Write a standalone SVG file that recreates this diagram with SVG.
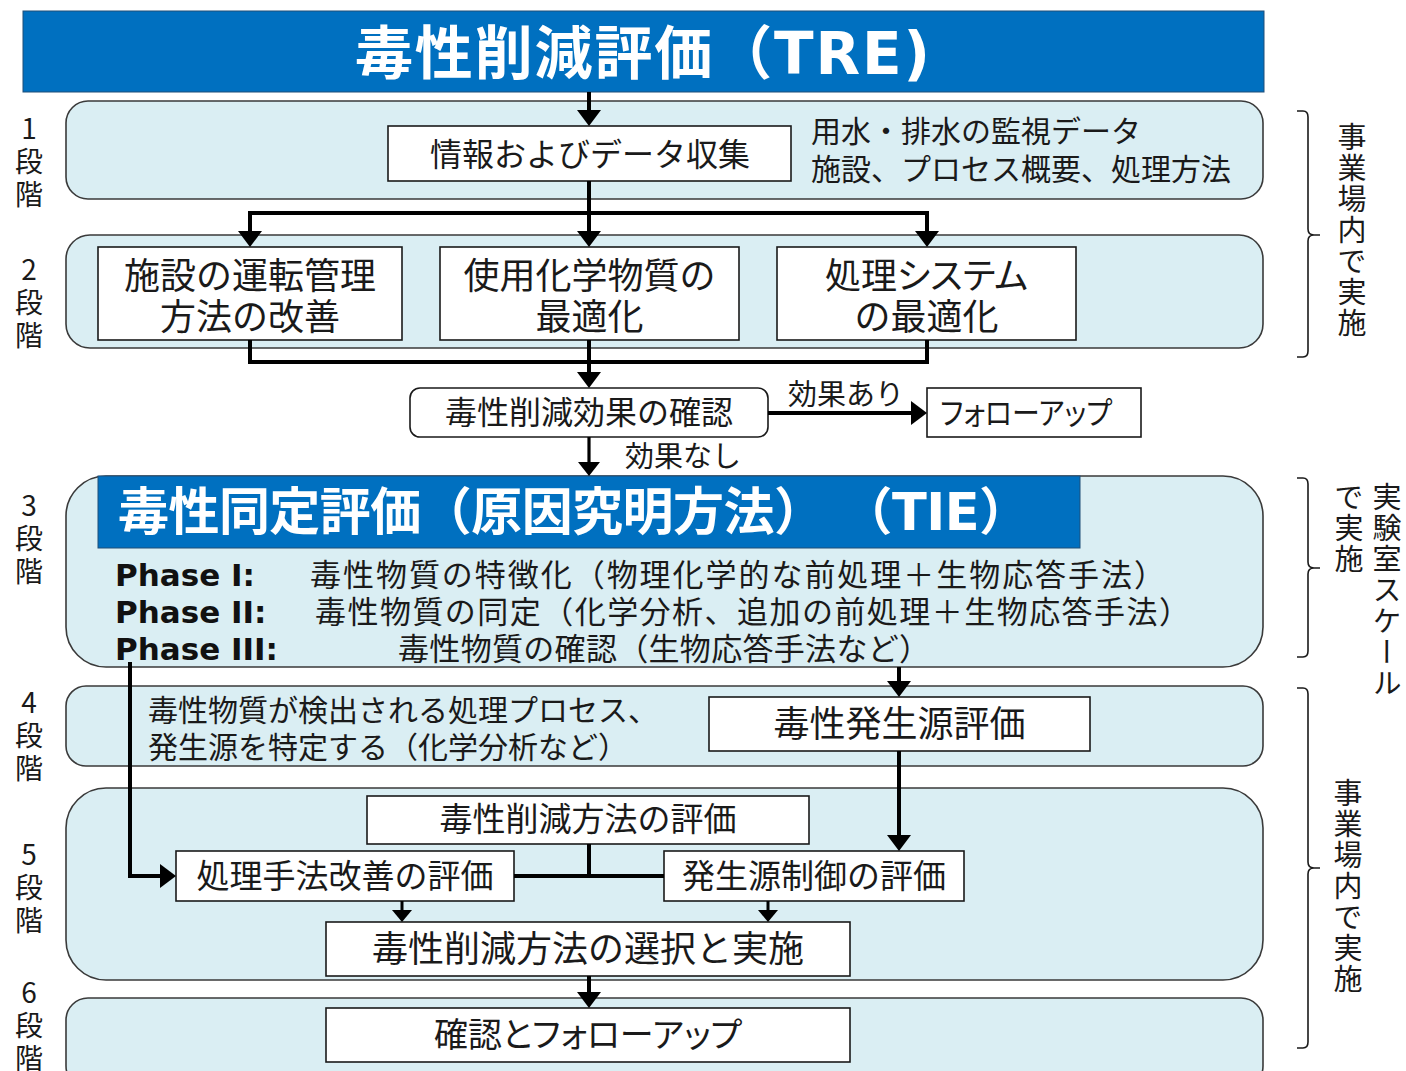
<svg xmlns="http://www.w3.org/2000/svg" width="1406" height="1071" viewBox="0 0 1406 1071">
<style>
.bg{fill:#ffffff}
.panel{fill:#DAEEF3;stroke:#3a3a3a;stroke-width:1.6}
.hdr{fill:#0070C0;stroke:#1f4e79;stroke-width:1}
.box{fill:#ffffff;stroke:#1a1a1a;stroke-width:1.6}
.t{font-family:"Noto Sans CJK JP","Noto Sans",sans-serif;fill:#1a1a1a}
.c{text-anchor:middle}
.w{font-family:"DejaVu Sans","Noto Sans CJK JP",sans-serif;font-weight:bold;fill:#ffffff}
.ph{font-family:"DejaVu Sans","Noto Sans CJK JP",sans-serif;font-weight:bold;fill:#111111;font-size:31px}
.lab{font-family:"Noto Sans CJK JP","Noto Sans",sans-serif;fill:#1a1a1a;font-size:28px;writing-mode:vertical-rl;text-orientation:upright;letter-spacing:5px}
.vt{font-family:"Noto Sans CJK JP",sans-serif;fill:#1a1a1a;font-size:29px;writing-mode:vertical-rl;text-orientation:upright;letter-spacing:2px}
.palt{font-feature-settings:"palt"}
.ln{fill:none;stroke:#000;stroke-width:4;stroke-linejoin:miter}
.lt{fill:none;stroke:#000;stroke-width:3.2}
.ls{fill:none;stroke:#000;stroke-width:3}
.br{fill:none;stroke:#1a1a1a;stroke-width:1.6}
</style>
<defs>
<marker id="ah" markerUnits="userSpaceOnUse" viewBox="0 0 16 24" refX="6" refY="12" markerWidth="16" markerHeight="24" orient="auto-start-reverse">
<path d="M0,0 L16,12 L0,24 z" fill="#000"/>
</marker>
<marker id="am" markerUnits="userSpaceOnUse" viewBox="0 0 14 22" refX="6" refY="11" markerWidth="14" markerHeight="22" orient="auto">
<path d="M0,0 L14,11 L0,22 z" fill="#000"/>
</marker>
<marker id="as" markerUnits="userSpaceOnUse" viewBox="0 0 12 20" refX="4" refY="10" markerWidth="12" markerHeight="20" orient="auto">
<path d="M0,0 L12,10 L0,20 z" fill="#000"/>
</marker>
</defs>
<rect class="bg" x="0" y="0" width="1406" height="1071"/>

<g id="title">
<rect class="hdr" x="23" y="11" width="1241" height="81"/>
<text class="w" x="355" y="74" font-size="58" textLength="575">毒性削減評価（TRE)</text>
</g>

<g id="stage-labels">
<text class="lab" x="29" y="114">1段階</text>
<text class="lab" x="29" y="255">2段階</text>
<text class="lab" x="29" y="491">3段階</text>
<text class="lab" x="29" y="688">4段階</text>
<text class="lab" x="29" y="840">5段階</text>
<text class="lab" x="29" y="978">6段階</text>
</g>

<g id="panels">
<rect id="stage1" class="panel" x="66" y="101" width="1197" height="98" rx="22"/>
<rect id="stage2" class="panel" x="66" y="235" width="1197" height="113" rx="24"/>
<rect id="stage3" class="panel" x="66" y="476" width="1197" height="191" rx="40"/>
<rect id="stage4" class="panel" x="66" y="686" width="1197" height="80" rx="20"/>
<rect id="stage5" class="panel" x="66" y="788" width="1197" height="192" rx="40"/>
<rect id="stage6" class="panel" x="66" y="998" width="1197" height="90" rx="22"/>
</g>

<g id="brackets">
<path class="br" d="M1297,111 H1303 Q1308,111 1308,117 V229 Q1308,235 1314,235 H1320 M1314,235 Q1308,235 1308,241 V351 Q1308,357 1303,357 H1297"/>
<path class="br" d="M1297,478 H1303 Q1308,478 1308,484 V562 Q1308,568 1314,568 H1320 M1314,568 Q1308,568 1308,574 V651 Q1308,657 1303,657 H1297"/>
<path class="br" d="M1297,688 H1303 Q1308,688 1308,694 V862 Q1308,868 1314,868 H1320 M1314,868 Q1308,868 1308,874 V1042 Q1308,1048 1303,1048 H1297"/>
<text class="vt" x="1352" y="122">事業場内で実施</text>
<text class="vt" x="1387" y="482">実験室スケール</text>
<text class="vt" x="1349" y="482">で実施</text>
<text class="vt" x="1348" y="778">事業場内で実施</text>
</g>

<g id="n-info">
<rect class="box" x="388" y="126" width="403" height="55"/>
<text class="t c" x="590" y="166" font-size="32">情報およびデータ収集</text>
<text class="t" x="811" y="142" font-size="30">用水・排水の監視データ<tspan x="811" y="180">施設、プロセス概要、処理方法</tspan></text>
</g>

<g id="n-facility">
<rect class="box" x="98" y="247" width="304" height="93"/>
<text class="t c" x="250" y="289" font-size="36">施設の運転管理<tspan x="250" y="330">方法の改善</tspan></text>
</g>
<g id="n-chem">
<rect class="box" x="440" y="247" width="299" height="93"/>
<text class="t c" x="589.5" y="289" font-size="36">使用化学物質の<tspan x="589.5" y="330">最適化</tspan></text>
</g>
<g id="n-system">
<rect class="box" x="777" y="247" width="299" height="93"/>
<text class="t c" x="926.5" y="289" font-size="36"><tspan class="palt">処理システム</tspan><tspan x="926.5" y="330">の最適化</tspan></text>
</g>

<g id="n-check">
<rect class="box" x="410" y="388" width="358" height="49" rx="10"/>
<text class="t c" x="589" y="424" font-size="32">毒性削減効果の確認</text>
</g>
<g id="n-follow">
<rect class="box" x="927" y="388" width="214" height="49"/>
<text class="t palt" x="940" y="424" font-size="31" textLength="172" lengthAdjust="spacingAndGlyphs">フォローアップ</text>
</g>

<g id="n-tie">
<rect class="hdr" x="98" y="476" width="982" height="72" stroke="none"/>
<text class="w" x="118" y="530" font-size="51" textLength="912">毒性同定評価（原因究明方法） （TIE）</text>
<text class="ph" x="115" y="586">Phase I:</text>
<text class="ph" x="115" y="623">Phase II:</text>
<text class="ph" x="115" y="660">Phase III:</text>
<text class="t" x="310" y="586" font-size="31" textLength="855">毒性物質の特徴化（物理化学的な前処理＋生物応答手法）</text>
<text class="t" x="315" y="623" font-size="31" textLength="875">毒性物質の同定（化学分析、追加の前処理＋生物応答手法）</text>
<text class="t" x="398" y="660" font-size="31" textLength="532">毒性物質の確認（生物応答手法など）</text>
</g>

<g id="n-stage4">
<text class="t" x="148" y="721" font-size="30">毒性物質が検出される処理プロセス、<tspan x="148" y="758">発生源を特定する（化学分析など）</tspan></text>
</g>
<g id="n-source">
<rect class="box" x="709" y="697" width="381" height="54"/>
<text class="t c" x="899.5" y="737" font-size="36">毒性発生源評価</text>
</g>

<g id="n-method">
<rect class="box" x="367" y="796" width="442" height="48"/>
<text class="t c" x="588" y="831" font-size="33">毒性削減方法の評価</text>
</g>
<g id="n-treat">
<rect class="box" x="176" y="851" width="338" height="50"/>
<text class="t c" x="345" y="888" font-size="33">処理手法改善の評価</text>
</g>
<g id="n-control">
<rect class="box" x="664" y="851" width="300" height="50"/>
<text class="t c" x="814" y="888" font-size="33">発生源制御の評価</text>
</g>
<g id="n-select">
<rect class="box" x="326" y="922" width="524" height="54"/>
<text class="t c" x="588" y="962" font-size="36">毒性削減方法の選択と実施</text>
</g>
<g id="n-final">
<rect class="box" x="326" y="1008" width="524" height="54"/>
<text class="t c palt" x="588" y="1047" font-size="34">確認とフォローアップ</text>
</g>

<g id="connectors">
<path class="ln" d="M589,92 V116" marker-end="url(#ah)"/>
<path class="ln" d="M589,181 V237" marker-end="url(#ah)"/>
<path class="ln" d="M250,237 V213 H927 V237" marker-start="url(#ah)" marker-end="url(#ah)"/>
<path class="ln" d="M250,340 V362 H927 V340"/>
<path class="ln" d="M589,340 V378" marker-end="url(#ah)"/>
<path class="ln" d="M768,413 H917" marker-end="url(#ah)"/>
<text class="t" x="788" y="405" font-size="29">効果あり</text>
<path class="lt" d="M589,437 V468" marker-end="url(#am)"/>
<text class="t" x="625" y="467" font-size="29">効果なし</text>
<path class="ln" d="M130,662 V876 H166" marker-end="url(#ah)"/>
<path class="ln" d="M899,667 V687" marker-end="url(#ah)"/>
<path class="ln" d="M899,751 V841" marker-end="url(#ah)"/>
<path class="ln" d="M589,844 V876 M514,876 H664"/>
<path class="ls" d="M402,901 V914" marker-end="url(#as)"/>
<path class="ls" d="M768,901 V914" marker-end="url(#as)"/>
<path class="ln" d="M589,976 V998" marker-end="url(#ah)"/>
</g>
</svg>
